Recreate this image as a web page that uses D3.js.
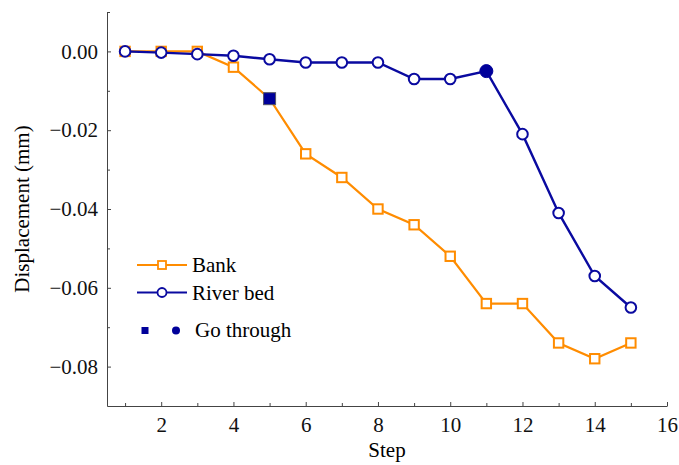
<!DOCTYPE html>
<html>
<head>
<meta charset="utf-8">
<script src="https://cdn.jsdelivr.net/npm/d3@7"></script>
<style>
  body { margin: 0; background: #fff; }
  svg { display: block; }
  svg text { font-family: "Liberation Serif", "DejaVu Serif", "Times New Roman", serif; }
  .axis path, .axis line { stroke: #444; }
  .axis text { font-size: 21px; fill: #111; }
</style>
</head>
<body>
<div id="chart"></div>
<script>
const steps = [1, 2, 3, 4, 5, 6, 7, 8, 9, 10, 11, 12, 13, 14, 15];
const bankDisp = [0, 0, 0, -0.004, -0.012, -0.026, -0.032, -0.040, -0.044, -0.052, -0.064, -0.064, -0.074, -0.078, -0.074];
const riverBedDisp = [0, -0.0003, -0.0007, -0.0011, -0.002, -0.0028, -0.0028, -0.0028, -0.007, -0.007, -0.005, -0.021, -0.041, -0.057, -0.065];
const goThroughBank = 5;
const goThroughRiver = 11;
const xTicks = [2, 4, 6, 8, 10, 12, 14, 16];
const xMinor = [1, 3, 5, 7, 9, 11, 13, 15];
const yTicks = [0, -0.02, -0.04, -0.06, -0.08];
const yMinor = [0.01, -0.01, -0.03, -0.05, -0.07];

const orange = "#ff8c00";
const blue = "#0a0aa0";
const navy = "#00009a";
const serif = "'Liberation Serif', 'DejaVu Serif', 'Times New Roman', serif";

const width = 679, height = 465;
const svg = d3.select("#chart").append("svg")
  .attr("width", width).attr("height", height)
  .attr("font-family", serif);

const x = d3.scaleLinear().domain([0.5, 16]).range([107, 667]);
const y = d3.scaleLinear().domain([-0.09, 0.01]).range([406, 12]);

// axes
svg.append("g").attr("class", "axis")
  .attr("transform", `translate(0,${y(-0.09)})`)
  .call(d3.axisBottom(x).tickValues(xTicks).tickSize(-4).tickPadding(11).tickSizeOuter(0))
  .attr("font-family", serif);
svg.append("g").attr("class", "axis")
  .attr("transform", `translate(0,${y(-0.09)})`)
  .call(d3.axisBottom(x).tickValues(xMinor).tickSize(-3).tickFormat("").tickSizeOuter(0))
  .select(".domain").remove();

svg.append("g").attr("class", "axis")
  .attr("transform", `translate(${x(0.5)},0)`)
  .call(d3.axisLeft(y).tickValues(yTicks).tickSize(-4).tickPadding(9).tickSizeOuter(0)
    .tickFormat(d3.format(".2f")))
  .attr("font-family", serif);
svg.append("g").attr("class", "axis")
  .attr("transform", `translate(${x(0.5)},0)`)
  .call(d3.axisLeft(y).tickValues(yMinor).tickSize(-3).tickFormat("").tickSizeOuter(0))
  .select(".domain").remove();

// axis titles
svg.append("text")
  .attr("x", (x(0.5) + x(16)) / 2).attr("y", 457)
  .attr("text-anchor", "middle").attr("font-size", 21).text("Step");
svg.append("text")
  .attr("transform", `translate(29,${(y(0.01) + y(-0.09)) / 2}) rotate(-90)`)
  .attr("text-anchor", "middle").attr("font-size", 21).text("Displacement (mm)");

// series
const line = d3.line().x((d, i) => x(steps[i])).y(d => y(d));

svg.append("path").datum(bankDisp)
  .attr("d", line).attr("fill", "none")
  .attr("stroke", orange).attr("stroke-width", 2.2);

svg.selectAll(".bank").data(bankDisp).enter().append("rect")
  .attr("class", "bank")
  .attr("x", (d, i) => x(steps[i]) - 4.7)
  .attr("y", d => y(d) - 4.7)
  .attr("width", 9.4).attr("height", 9.4)
  .attr("fill", "#fff").attr("stroke", orange).attr("stroke-width", 2)
  .filter((d, i) => steps[i] === goThroughBank)
  .attr("x", (d, i) => x(goThroughBank) - 6)
  .attr("y", d => y(d) - 6)
  .attr("width", 12).attr("height", 12)
  .attr("fill", navy).attr("stroke", "#556").attr("stroke-width", 1);

svg.append("path").datum(riverBedDisp)
  .attr("d", line).attr("fill", "none")
  .attr("stroke", blue).attr("stroke-width", 2.4);

svg.selectAll(".river").data(riverBedDisp).enter().append("circle")
  .attr("class", "river")
  .attr("cx", (d, i) => x(steps[i]))
  .attr("cy", d => y(d))
  .attr("r", 5.3)
  .attr("fill", "#fff").attr("stroke", blue).attr("stroke-width", 2)
  .filter((d, i) => steps[i] === goThroughRiver)
  .attr("r", 6.5)
  .attr("fill", navy).attr("stroke", navy).attr("stroke-width", 1);

// legend
const legend = svg.append("g").attr("font-size", 21);
const lx1 = 137, lx2 = 187, lmid = 162;
legend.append("line").attr("x1", lx1).attr("x2", lx2).attr("y1", 265).attr("y2", 265)
  .attr("stroke", orange).attr("stroke-width", 2.2);
legend.append("rect").attr("x", lmid - 4).attr("y", 261).attr("width", 8).attr("height", 8)
  .attr("fill", "#fff").attr("stroke", orange).attr("stroke-width", 1.8);
legend.append("text").attr("x", 192).attr("y", 272).text("Bank");

legend.append("line").attr("x1", lx1).attr("x2", lx2).attr("y1", 292.5).attr("y2", 292.5)
  .attr("stroke", blue).attr("stroke-width", 2.2);
legend.append("circle").attr("cx", lmid).attr("cy", 292.5).attr("r", 4.5)
  .attr("fill", "#fff").attr("stroke", blue).attr("stroke-width", 1.8);
legend.append("text").attr("x", 192).attr("y", 299.5).text("River bed");

legend.append("rect").attr("x", 141.5).attr("y", 327).attr("width", 7).attr("height", 7)
  .attr("fill", navy);
legend.append("circle").attr("cx", 176).attr("cy", 330.5).attr("r", 4)
  .attr("fill", navy);
legend.append("text").attr("x", 195).attr("y", 337).text("Go through");
</script>
</body>
</html>
